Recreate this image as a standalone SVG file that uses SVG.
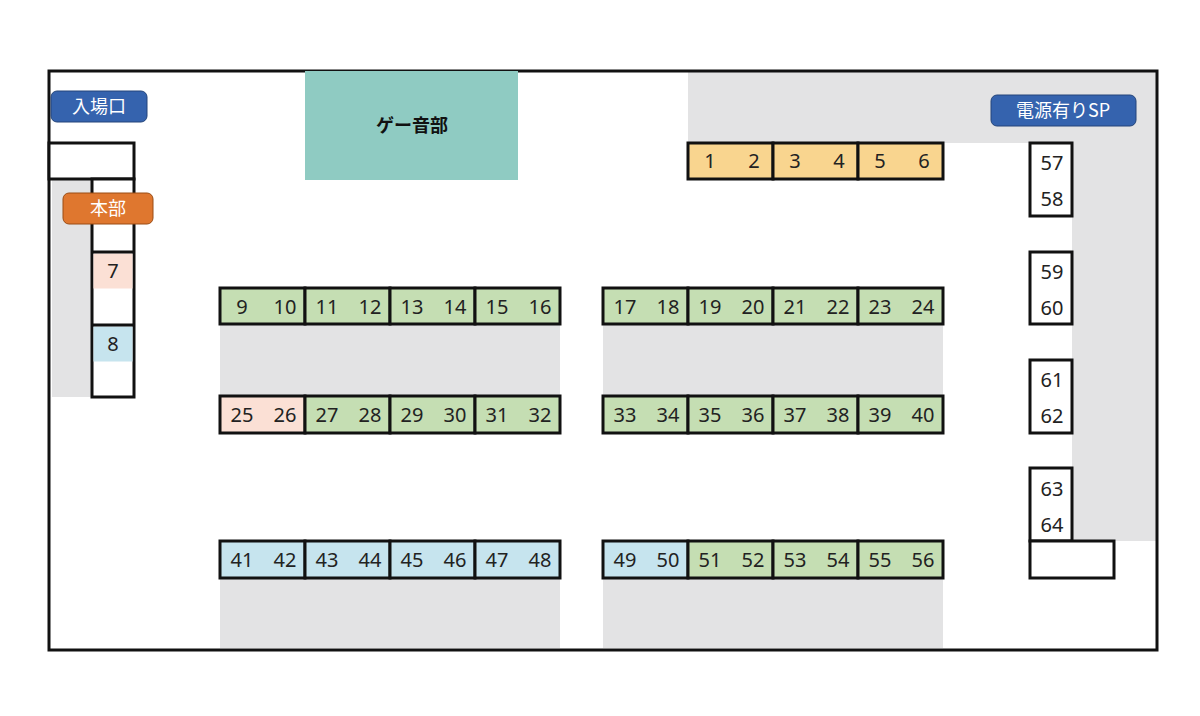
<svg xmlns="http://www.w3.org/2000/svg" width="1200" height="716" viewBox="0 0 1200 716">
<style>
.t{stroke:#111;stroke-width:3}
.g{fill:#c5deb3}.y{fill:#f9d58f}.p{fill:#fbe0d5}.b{fill:#c6e4ee}.w{fill:#fff}
.n{font-family:"Noto Sans","DejaVu Sans",sans-serif;font-size:20px;fill:#222;text-anchor:middle}
.lb{font-family:"Noto Sans CJK JP",sans-serif;font-size:18px;fill:#fff;text-anchor:middle}
.gr{fill:#e3e3e4}
</style>
<rect width="1200" height="716" fill="#fff"/>
<g id="floor">
<rect class="gr" x="688" y="71" width="469" height="72"/>
<rect class="gr" x="1072" y="143" width="85" height="398"/>
<rect class="gr" x="52" y="179" width="40" height="218"/>
<rect class="gr" x="220" y="325" width="340" height="72"/>
<rect class="gr" x="603" y="325" width="340" height="72"/>
<rect class="gr" x="220" y="578" width="340" height="70"/>
<rect class="gr" x="603" y="578" width="340" height="70"/>
<rect x="49" y="71" width="1108" height="579" fill="none" stroke="#111" stroke-width="3"/>
</g>
<g id="game"><rect x="305" y="71" width="213" height="109" fill="#8fcbc2"/><text x="412" y="132" font-family="Noto Sans CJK JP,sans-serif" font-size="18" font-weight="bold" text-anchor="middle" fill="#111">ゲー音部</text></g>
<g id="left">
<rect class="t w" x="49" y="143" width="85" height="36"/>
<rect class="t w" x="92" y="179" width="42" height="218"/>
<rect class="p" x="93.5" y="253.5" width="39" height="35"/>
<rect class="b" x="93.5" y="326.5" width="39" height="35"/>
<line class="t" x1="92" y1="252" x2="134" y2="252"/>
<line class="t" x1="92" y1="325" x2="134" y2="325"/>
<text class="n" x="113" y="278">7</text><text class="n" x="113" y="351">8</text>
</g>
<g id="tables">
<rect class="t y" x="688" y="143" width="85" height="36"/><text class="n" x="710" y="168">1</text><text class="n" x="754" y="168">2</text>
<rect class="t y" x="773" y="143" width="85" height="36"/><text class="n" x="795" y="168">3</text><text class="n" x="839" y="168">4</text>
<rect class="t y" x="858" y="143" width="85" height="36"/><text class="n" x="880" y="168">5</text><text class="n" x="924" y="168">6</text>

<rect class="t g" x="220" y="288" width="85" height="36"/><text class="n" x="242" y="314">9</text><text class="n" x="285" y="314">10</text>
<rect class="t g" x="305" y="288" width="85" height="36"/><text class="n" x="327" y="314">11</text><text class="n" x="370" y="314">12</text>
<rect class="t g" x="390" y="288" width="85" height="36"/><text class="n" x="412" y="314">13</text><text class="n" x="455" y="314">14</text>
<rect class="t g" x="475" y="288" width="85" height="36"/><text class="n" x="497" y="314">15</text><text class="n" x="540" y="314">16</text>
<rect class="t g" x="603" y="288" width="85" height="36"/><text class="n" x="625" y="314">17</text><text class="n" x="668" y="314">18</text>
<rect class="t g" x="688" y="288" width="85" height="36"/><text class="n" x="710" y="314">19</text><text class="n" x="753" y="314">20</text>
<rect class="t g" x="773" y="288" width="85" height="36"/><text class="n" x="795" y="314">21</text><text class="n" x="838" y="314">22</text>
<rect class="t g" x="858" y="288" width="85" height="36"/><text class="n" x="880" y="314">23</text><text class="n" x="923" y="314">24</text>

<rect class="t p" x="220" y="396" width="85" height="37"/><text class="n" x="242" y="422">25</text><text class="n" x="285" y="422">26</text>
<rect class="t g" x="305" y="396" width="85" height="37"/><text class="n" x="327" y="422">27</text><text class="n" x="370" y="422">28</text>
<rect class="t g" x="390" y="396" width="85" height="37"/><text class="n" x="412" y="422">29</text><text class="n" x="455" y="422">30</text>
<rect class="t g" x="475" y="396" width="85" height="37"/><text class="n" x="497" y="422">31</text><text class="n" x="540" y="422">32</text>
<rect class="t g" x="603" y="396" width="85" height="37"/><text class="n" x="625" y="422">33</text><text class="n" x="668" y="422">34</text>
<rect class="t g" x="688" y="396" width="85" height="37"/><text class="n" x="710" y="422">35</text><text class="n" x="753" y="422">36</text>
<rect class="t g" x="773" y="396" width="85" height="37"/><text class="n" x="795" y="422">37</text><text class="n" x="838" y="422">38</text>
<rect class="t g" x="858" y="396" width="85" height="37"/><text class="n" x="880" y="422">39</text><text class="n" x="923" y="422">40</text>

<rect class="t b" x="220" y="541" width="85" height="37"/><text class="n" x="242" y="567">41</text><text class="n" x="285" y="567">42</text>
<rect class="t b" x="305" y="541" width="85" height="37"/><text class="n" x="327" y="567">43</text><text class="n" x="370" y="567">44</text>
<rect class="t b" x="390" y="541" width="85" height="37"/><text class="n" x="412" y="567">45</text><text class="n" x="455" y="567">46</text>
<rect class="t b" x="475" y="541" width="85" height="37"/><text class="n" x="497" y="567">47</text><text class="n" x="540" y="567">48</text>
<rect class="t b" x="603" y="541" width="85" height="37"/><text class="n" x="625" y="567">49</text><text class="n" x="668" y="567">50</text>
<rect class="t g" x="688" y="541" width="85" height="37"/><text class="n" x="710" y="567">51</text><text class="n" x="753" y="567">52</text>
<rect class="t g" x="773" y="541" width="85" height="37"/><text class="n" x="795" y="567">53</text><text class="n" x="838" y="567">54</text>
<rect class="t g" x="858" y="541" width="85" height="37"/><text class="n" x="880" y="567">55</text><text class="n" x="923" y="567">56</text>
</g>
<g id="right">
<rect class="t w" x="1030" y="143" width="42" height="73"/><text class="n" x="1052" y="170">57</text><text class="n" x="1052" y="206">58</text>
<rect class="t w" x="1030" y="252" width="42" height="72"/><text class="n" x="1052" y="279">59</text><text class="n" x="1052" y="315">60</text>
<rect class="t w" x="1030" y="360" width="42" height="73"/><text class="n" x="1052" y="387">61</text><text class="n" x="1052" y="423">62</text>
<rect class="t w" x="1030" y="468" width="42" height="73"/><text class="n" x="1052" y="496">63</text><text class="n" x="1052" y="532">64</text>
<rect class="t w" x="1030" y="541" width="84" height="37"/>
</g>
<g id="labels">
<g id="entrance"><rect x="51" y="91" width="96" height="31" rx="6" fill="#3563ae" stroke="#24457a"/><text class="lb" x="99" y="113">入場口</text></g>
<g id="hq"><rect x="63" y="193" width="90" height="31" rx="6" fill="#df772f" stroke="#9a4d15"/><text class="lb" x="108" y="215">本部</text></g>
<g id="power"><rect x="991" y="95" width="145" height="31" rx="6" fill="#3563ae" stroke="#24457a"/><text class="lb" x="1063" y="117">電源有りSP</text></g>
</g>
</svg>
